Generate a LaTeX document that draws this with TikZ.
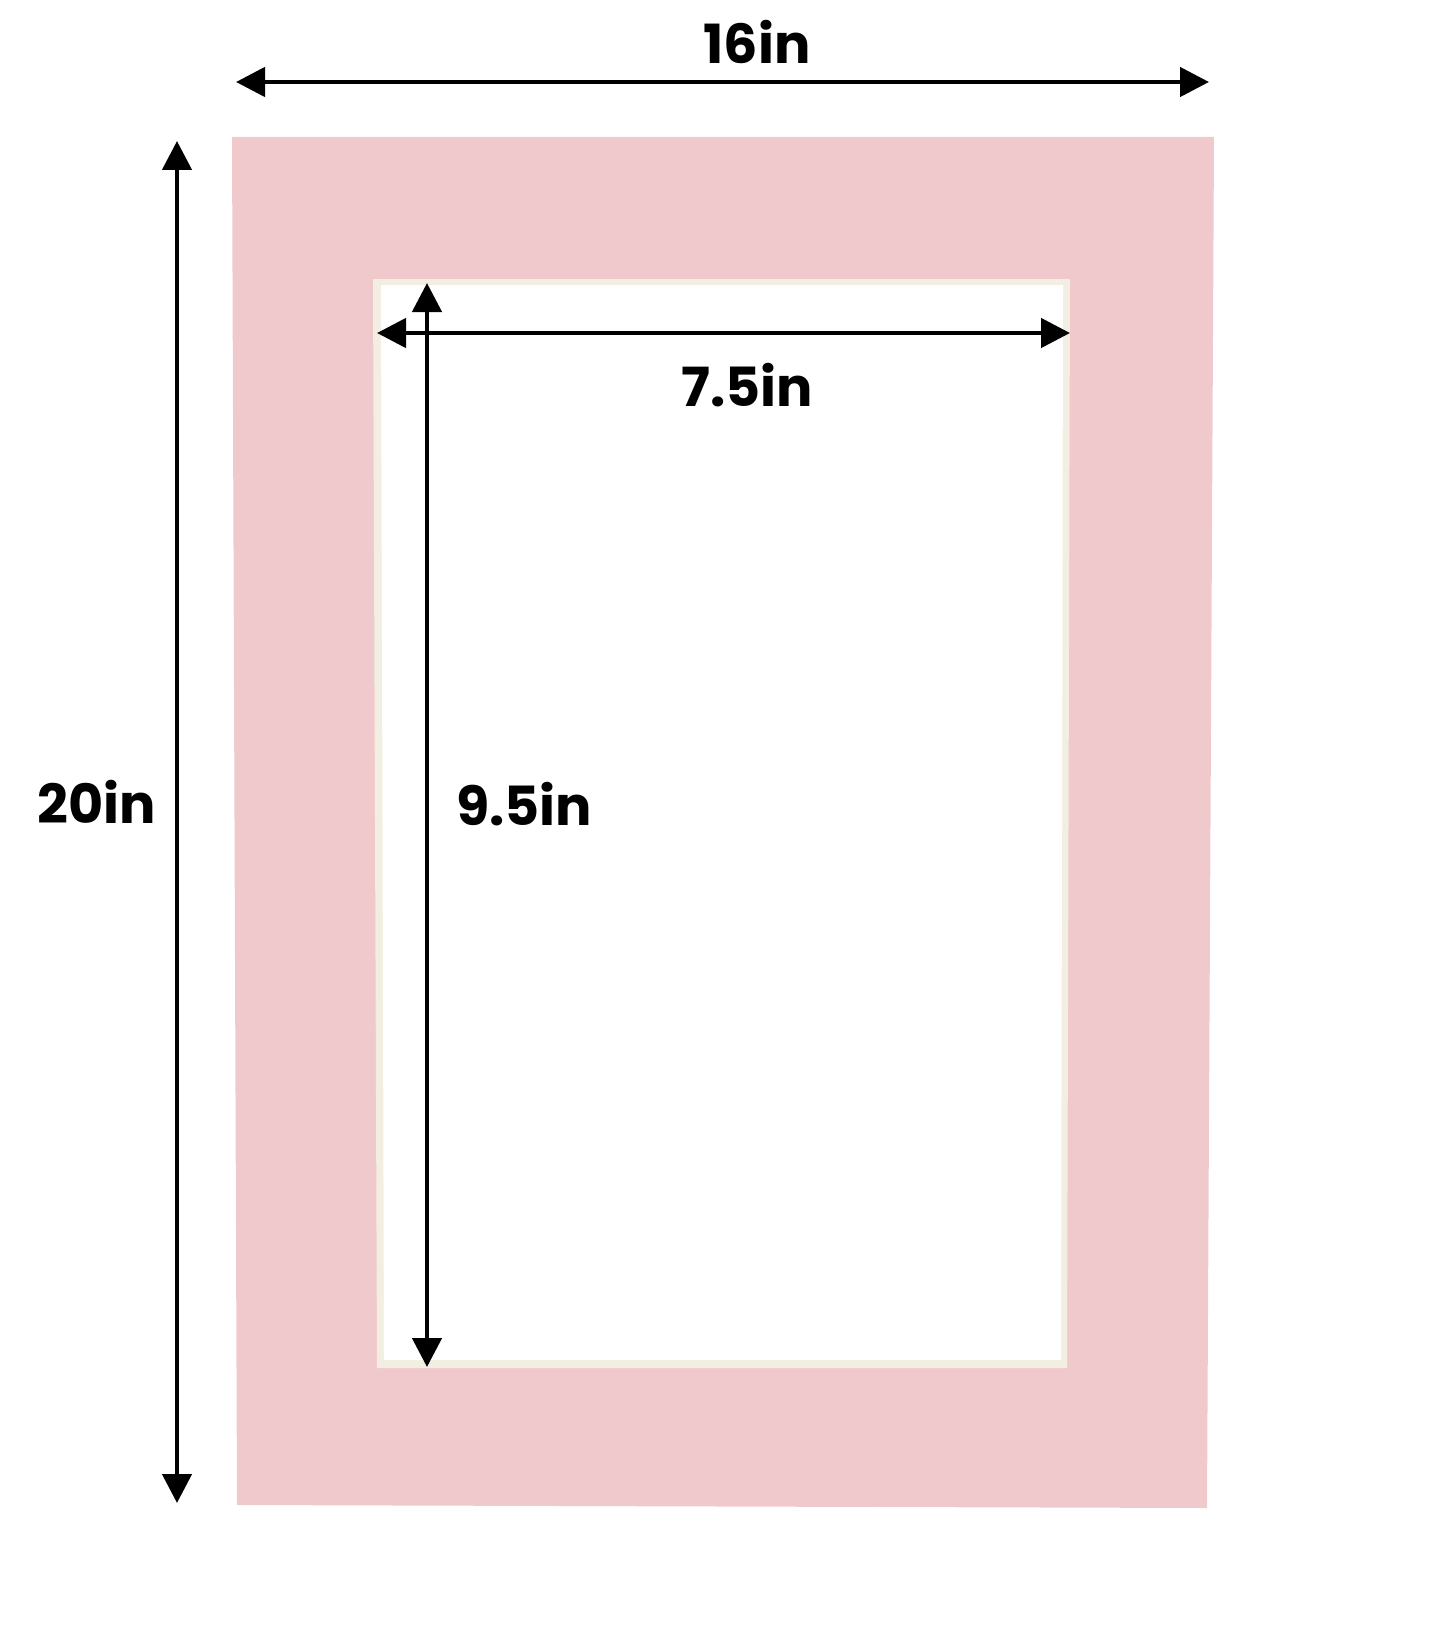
\documentclass[tikz,border=0pt]{standalone}
\usepackage{fontspec}
\setmainfont{Poppins}[BoldFont={* Bold}]
\usetikzlibrary{arrows.meta}
\definecolor{matpink}{RGB}{240,201,204}
\definecolor{bevel}{RGB}{242,238,226}
\tikzset{
  dim/.style={line width=4.6pt, {Triangle[length=29pt,width=29pt]}-{Triangle[length=29pt,width=29pt]}},
  lbl/.style={inner sep=0pt, anchor=base, font=\fontsize{54}{54}\selectfont\bfseries}
}
\begin{document}
\begin{tikzpicture}[x=1pt,y=-1pt]
\useasboundingbox (0,0) rectangle (1445,1645);
% mat board
\fill[matpink] (232,137) -- (1214,137) -- (1207,1508) -- (237,1505) -- cycle;
% bevel of opening
\fill[bevel] (373,279) -- (1070,279) -- (1067,1368) -- (377,1368) -- cycle;
% opening
\fill[white] (381,285) -- (1063,285) -- (1061,1360) -- (384,1360) -- cycle;
% arrow end points
\coordinate (tL) at (236,82);
\coordinate (tR) at (1209,82);
\coordinate (lT) at (177,141);
\coordinate (lB) at (177,1503);
\coordinate (iL) at (377,333);
\coordinate (iR) at (1070,333);
\coordinate (iT) at (427,283);
\coordinate (iB) at (427,1367);
\draw[dim] (tL) -- (tR);
\draw[dim] (lT) -- (lB);
\draw[dim] (iL) -- (iR);
\draw[dim] (iT) -- (iB);
% labels
\node[lbl] (w16) at (757,64) {16in};
\node[lbl] (w75) at (747,406) {7.5in};
\node[lbl] (h20) at (97,823) {20in};
\node[lbl] (h95) at (524,825) {9.5in};
\end{tikzpicture}
\end{document}
